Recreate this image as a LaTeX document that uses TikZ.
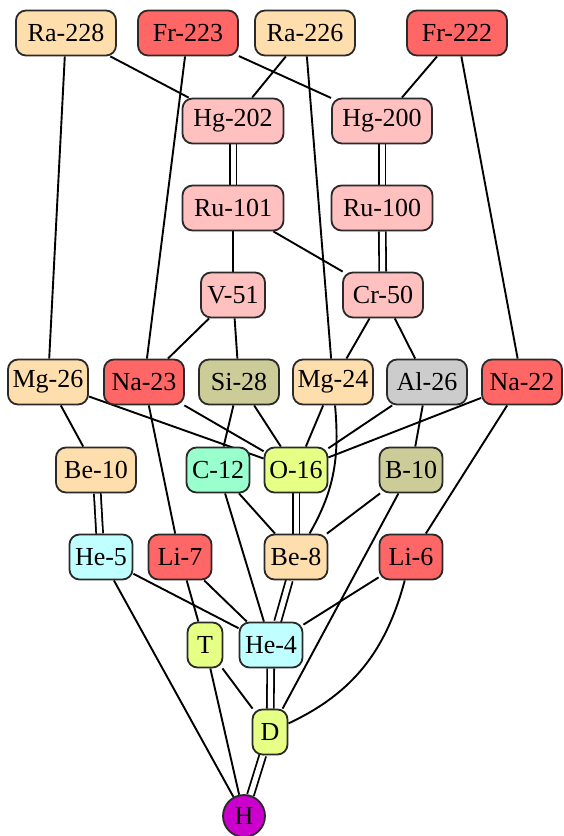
\documentclass[tikz,border=0pt]{standalone}
\usepackage{fontspec}
\setmainfont{Liberation Serif}
\usetikzlibrary{backgrounds}
\definecolor{peach}{HTML}{FFDEAD}
\definecolor{hotred}{HTML}{FF6666}
\definecolor{rosy}{HTML}{FFC0C0}
\definecolor{khaki}{HTML}{CCCC99}
\definecolor{ltgray}{HTML}{CCCCCC}
\definecolor{mint}{HTML}{99FFCC}
\definecolor{lime}{HTML}{E6FF85}
\definecolor{ltcyan}{HTML}{C0FFFF}
\definecolor{violet}{HTML}{CC00CC}
\definecolor{rim}{HTML}{2A2A2A}

\begin{document}
\begin{tikzpicture}[
  x=1pt, y=1pt,
  iso/.style={draw=rim, line width=1.8pt, rounded corners=10pt,
    minimum height=45pt, inner xsep=4pt, font=\fontsize{26}{26}\selectfont},
  link/.style={line width=1.9pt},
  dlink/.style={double, double distance=5pt, line width=1.8pt},
]

% Canvas
\useasboundingbox (0,0) rectangle (563,-836);

% =============================================
% Heavy nuclei
% =============================================
\node[iso, fill=peach, minimum width=100pt]  (ra228) at (66,-33)  {Ra-228};
\node[iso, fill=hotred, minimum width=100pt] (fr223) at (188,-33) {Fr-223};
\node[iso, fill=peach, minimum width=100pt]  (ra226) at (305,-33) {Ra-226};
\node[iso, fill=hotred, minimum width=100pt] (fr222) at (457,-33) {Fr-222};

\node[iso, fill=rosy, minimum width=101pt] (hg202) at (233,-121) {Hg-202};
\node[iso, fill=rosy, minimum width=100pt] (hg200) at (382,-121) {Hg-200};
\node[iso, fill=rosy, minimum width=101pt] (ru101) at (233,-208) {Ru-101};
\node[iso, fill=rosy, minimum width=101pt] (ru100) at (382,-208) {Ru-100};
\node[iso, fill=rosy, minimum width=64pt]  (v51)   at (233,-295) {V-51};
\node[iso, fill=rosy, minimum width=80pt]  (cr50)  at (383,-295) {Cr-50};

% =============================================
% Light nuclei
% =============================================
\node[iso, fill=peach, minimum width=80pt]  (mg26) at (48,-382)  {Mg-26};
\node[iso, fill=hotred, minimum width=80pt] (na23) at (144,-382) {Na-23};
\node[iso, fill=khaki, minimum width=80pt]  (si28) at (239,-382) {Si-28};
\node[iso, fill=peach, minimum width=80pt]  (mg24) at (333,-382) {Mg-24};
\node[iso, fill=ltgray, minimum width=80pt] (al26) at (427,-382) {Al-26};
\node[iso, fill=hotred, minimum width=80pt] (na22) at (522,-382) {Na-22};

\node[iso, fill=peach, minimum width=80pt] (be10) at (96,-470)  {Be-10};
\node[iso, fill=mint, minimum width=63pt]  (c12)  at (218,-470) {C-12};
\node[iso, fill=lime, minimum width=63pt]  (o16)  at (296,-470) {O-16};
\node[iso, fill=khaki, minimum width=63pt] (b10)  at (411,-470) {B-10};

\node[iso, fill=ltcyan, minimum width=63pt] (he5) at (101,-557) {He-5};
\node[iso, fill=hotred, minimum width=63pt] (li7) at (180,-557) {Li-7};
\node[iso, fill=peach, minimum width=63pt]  (be8) at (296,-557) {Be-8};
\node[iso, fill=hotred, minimum width=63pt] (li6) at (411,-557) {Li-6};

\node[iso, fill=lime, minimum width=35pt]   (t)   at (205,-645) {T};
\node[iso, fill=ltcyan, minimum width=63pt] (he4) at (271,-645) {He-4};
\node[iso, fill=lime, minimum width=35pt]   (d)   at (270,-732) {D};
\node[iso, fill=violet, circle, inner sep=0pt, minimum size=42pt] (h) at (244,-816) {H};

% =============================================
% Links (behind the boxes)
% =============================================
\begin{pgfonlayer}{background}
  \fill[white] (0,0) rectangle (563,-836);

  \draw[link] (ra228) -- (mg26);
  \draw[link] (ra228) -- (hg202);
  \draw[link] (fr223) -- (na23);
  \draw[link] (fr223) -- (hg200);
  \draw[link] (ra226) -- (hg202);
  \draw[link] (ra226) -- (mg24);
  \draw[link] (fr222) -- (hg200);
  \draw[link] (fr222) -- (na22);

  \draw[dlink] (hg202) -- (ru101);
  \draw[dlink] (hg200) -- (ru100);
  \draw[dlink] (ru100) -- (cr50);
  \draw[link] (ru101) -- (v51);
  \draw[link] (ru101) -- (cr50);
  \draw[link] (v51) -- (na23);
  \draw[link] (v51) -- (si28);
  \draw[link] (cr50) -- (mg24);
  \draw[link] (cr50) -- (al26);

  \draw[link] (mg26) -- (be10);
  \draw[link] (mg26) -- (o16);
  \draw[link] (na23) -- (o16);
  \draw[link] (na23) -- (li7);
  \draw[link] (si28) -- (c12);
  \draw[link] (si28) -- (o16);
  \draw[link] (mg24) -- (o16);
  \draw[link] (mg24) to[out=-85, in=60] (be8);
  \draw[link] (al26) -- (o16);
  \draw[link] (al26) -- (b10);
  \draw[link] (na22) -- (o16);
  \draw[link] (na22) -- (li6);

  \draw[dlink] (be10) -- (he5);
  \draw[dlink] (o16) -- (be8);
  \draw[link] (c12) -- (be8);
  \draw[link] (c12) -- (he4);
  \draw[link] (b10) -- (be8);
  \draw[link] (b10) -- (d);

  \draw[link] (he5) -- (he4);
  \draw[link] (he5) -- (h);
  \draw[link] (li7) -- (he4);
  \draw[link] (li7) -- (t);
  \draw[dlink] (be8) -- (he4);
  \draw[link] (li6) -- (he4);
  \draw[link] (li6) to[out=-105, in=25] (d);

  \draw[link] (t) -- (d);
  \draw[link] (t) -- (h);
  \draw[dlink] (he4) -- (d);
  \draw[dlink] (d) -- (h);
\end{pgfonlayer}

\end{tikzpicture}
\end{document}
